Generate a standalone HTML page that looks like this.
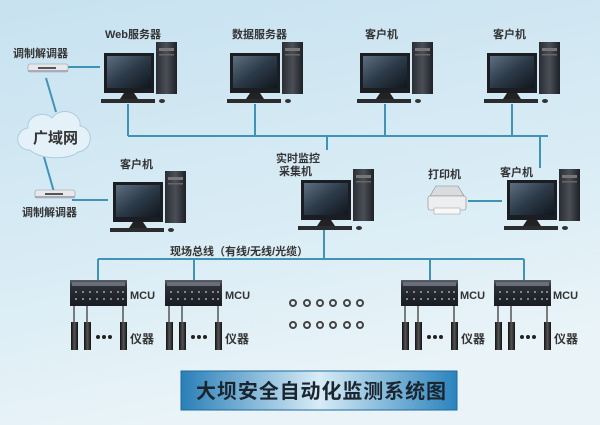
<!DOCTYPE html>
<html><head><meta charset="utf-8"><style>
html,body{margin:0;padding:0;width:600px;height:425px;overflow:hidden}
svg text{font-family:"Liberation Sans","Noto Sans CJK SC",sans-serif;font-weight:bold;fill:#333}
</style></head><body>
<svg width="600" height="425" viewBox="0 0 600 425" xmlns="http://www.w3.org/2000/svg">
<defs>
<linearGradient id="bg" x1="0" y1="0" x2="0.3" y2="1"><stop offset="0" stop-color="#c7e2f0"/><stop offset="0.6" stop-color="#d9ecf5"/><stop offset="1" stop-color="#eaf4f8"/></linearGradient>
<linearGradient id="scr" x1="0" y1="0" x2="1" y2="1"><stop offset="0" stop-color="#5d6f80"/><stop offset="0.5" stop-color="#2c3a48"/><stop offset="1" stop-color="#10161e"/></linearGradient>
<linearGradient id="tw" x1="0" y1="0" x2="1" y2="0"><stop offset="0" stop-color="#2a2d33"/><stop offset="0.5" stop-color="#4a4f57"/><stop offset="1" stop-color="#1e2126"/></linearGradient>
<linearGradient id="tb" x1="0" y1="0" x2="1" y2="0"><stop offset="0" stop-color="#2a7fb8"/><stop offset="0.5" stop-color="#d8ecf6"/><stop offset="1" stop-color="#2a83bd"/></linearGradient>
<linearGradient id="mcug" x1="0" y1="0" x2="0" y2="1"><stop offset="0" stop-color="#5a5e68"/><stop offset="0.25" stop-color="#2c2f38"/><stop offset="1" stop-color="#1a1c22"/></linearGradient>
<linearGradient id="bar" x1="0" y1="0" x2="1" y2="0"><stop offset="0" stop-color="#111"/><stop offset="0.5" stop-color="#555"/><stop offset="1" stop-color="#111"/></linearGradient>
<g id="pc">
 <rect x="52" y="-11" width="21" height="52" fill="url(#tw)"/>
 <rect x="55" y="-5" width="15" height="3" fill="#777"/>
 <rect x="55" y="1" width="15" height="1.5" fill="#666"/>
 <rect x="0" y="0" width="50" height="40" fill="#1a1d22"/>
 <rect x="3" y="3" width="44" height="32" fill="url(#scr)"/>
 <path d="M20 40 L30 40 L34 46 L16 46 Z" fill="#222"/>
 <rect x="-3" y="46" width="54" height="4" fill="#2a2c30"/>
 <ellipse cx="58" cy="48" rx="3" ry="2" fill="#333"/>
</g>
<g id="mcubox">
 <rect x="0" y="0" width="57" height="26" fill="url(#mcug)"/>
 <rect x="2" y="2" width="53" height="4" fill="#6a6e78"/>
 <g fill="#9aa">
  <circle cx="6" cy="12" r="1"/><circle cx="13" cy="12" r="1"/><circle cx="20" cy="12" r="1"/><circle cx="27" cy="12" r="1"/><circle cx="34" cy="12" r="1"/><circle cx="41" cy="12" r="1"/><circle cx="48" cy="12" r="1"/><circle cx="53" cy="12" r="1"/>
  <circle cx="6" cy="19" r="1"/><circle cx="13" cy="19" r="1"/><circle cx="20" cy="19" r="1"/><circle cx="27" cy="19" r="1"/><circle cx="34" cy="19" r="1"/><circle cx="41" cy="19" r="1"/><circle cx="48" cy="19" r="1"/><circle cx="53" cy="19" r="1"/>
 </g>
 <g stroke="#555" stroke-width="1.5"><line x1="4" y1="26" x2="4" y2="44"/><line x1="17" y1="26" x2="17" y2="44"/><line x1="53" y1="26" x2="53" y2="44"/></g>
 <rect x="1" y="42" width="7" height="28" fill="url(#bar)"/>
 <rect x="14" y="42" width="7" height="28" fill="url(#bar)"/>
 <rect x="50" y="42" width="7" height="28" fill="url(#bar)"/>
 <circle cx="28" cy="57" r="2" fill="#222"/><circle cx="34" cy="57" r="2" fill="#222"/><circle cx="40" cy="57" r="2" fill="#222"/>
</g>
<g id="modem">
 <rect x="0" y="0" width="40" height="8" rx="2" fill="#e6e8ec" stroke="#999" stroke-width="0.6"/>
 <rect x="10" y="3" width="18" height="2" fill="#555"/>
 <rect x="0" y="6" width="40" height="2" fill="#aab"/>
</g>
</defs>
<rect width="600" height="425" fill="url(#bg)"/>

<g stroke="#3f93b5" stroke-width="2" fill="none">
 <line x1="128" y1="104" x2="128" y2="136"/>
 <line x1="128" y1="136" x2="548" y2="136"/>
 <line x1="255" y1="104" x2="255" y2="136"/>
 <line x1="385" y1="104" x2="385" y2="136"/>
 <line x1="512" y1="104" x2="512" y2="136"/>
 <line x1="327" y1="136" x2="327" y2="150"/>
 <line x1="540" y1="136" x2="540" y2="168"/>
 <line x1="68" y1="67" x2="100" y2="67"/>
 <line x1="46" y1="78" x2="56" y2="112"/>
 <line x1="44" y1="157" x2="54" y2="192"/>
 <line x1="72" y1="200" x2="108" y2="200"/>
 <line x1="468" y1="201" x2="502" y2="201"/>
 <line x1="324" y1="226" x2="324" y2="259"/>
 <line x1="98" y1="259" x2="524" y2="259"/>
 <line x1="98" y1="259" x2="98" y2="280"/>
 <line x1="194" y1="259" x2="194" y2="280"/>
 <line x1="430" y1="259" x2="430" y2="280"/>
 <line x1="524" y1="259" x2="524" y2="280"/>
</g>

<g fill="#e4f1f8" stroke="#a9cde0" stroke-width="1">
 <path d="M30 150 C14 150 14 130 28 128 C26 116 44 110 52 118 C60 106 82 112 80 126 C94 128 94 150 78 152 C70 160 40 160 30 150 Z"/>
</g>
<text x="33" y="143" font-size="15">广域网</text>

<use href="#modem" x="28" y="64"/>
<text x="13" y="57" font-size="11">调制解调器</text>
<use href="#modem" x="35" y="190"/>
<text x="22" y="216" font-size="11">调制解调器</text>

<use href="#pc" x="104" y="53"/>
<text x="105" y="38" font-size="11">Web服务器</text>
<use href="#pc" x="230" y="53"/>
<text x="232" y="38" font-size="11">数据服务器</text>
<use href="#pc" x="360" y="53"/>
<text x="365" y="38" font-size="11">客户机</text>
<use href="#pc" x="487" y="53"/>
<text x="493" y="38" font-size="11">客户机</text>

<use href="#pc" x="113" y="182"/>
<text x="120" y="168" font-size="11">客户机</text>
<use href="#pc" x="301" y="180"/>
<text x="276" y="162" font-size="11">实时监控</text>
<text x="279" y="175" font-size="11">采集机</text>
<use href="#pc" x="507" y="180"/>
<text x="500" y="176" font-size="11">客户机</text>
<g>
 <path d="M430 196 L436 186 L458 186 L464 196 Z" fill="#d9dcdf" stroke="#888" stroke-width="0.6"/>
 <rect x="428" y="196" width="38" height="14" rx="2" fill="#eceef0" stroke="#888" stroke-width="0.6"/>
 <rect x="434" y="208" width="26" height="6" fill="#f8f8f8" stroke="#999" stroke-width="0.5"/>
</g>
<text x="428" y="178" font-size="11">打印机</text>

<text x="170" y="255" font-size="11">现场总线（有线/无线/光缆）</text>

<use href="#mcubox" x="70" y="280"/>
<text x="130" y="299" font-size="11">MCU</text>
<text x="130" y="343" font-size="12" font-weight="normal">仪器</text>
<use href="#mcubox" x="165" y="280"/>
<text x="225" y="299" font-size="11">MCU</text>
<text x="225" y="343" font-size="12" font-weight="normal">仪器</text>
<use href="#mcubox" x="401" y="280"/>
<text x="460" y="299" font-size="11">MCU</text>
<text x="461" y="343" font-size="12" font-weight="normal">仪器</text>
<use href="#mcubox" x="494" y="280"/>
<text x="553" y="299" font-size="11">MCU</text>
<text x="554" y="343" font-size="12" font-weight="normal">仪器</text>

<g fill="none" stroke="#444" stroke-width="2">
 <circle cx="293" cy="303" r="3"/><circle cx="307" cy="303" r="3"/><circle cx="320" cy="303" r="3"/><circle cx="333" cy="303" r="3"/><circle cx="347" cy="303" r="3"/><circle cx="360" cy="303" r="3"/>
 <circle cx="293" cy="325" r="3"/><circle cx="307" cy="325" r="3"/><circle cx="320" cy="325" r="3"/><circle cx="333" cy="325" r="3"/><circle cx="347" cy="325" r="3"/><circle cx="360" cy="325" r="3"/>
</g>

<rect x="181" y="371" width="276" height="39" fill="url(#tb)" stroke="#1d6a9e" stroke-width="1"/>
<text x="196" y="398" font-size="20" textLength="250" lengthAdjust="spacing" style="fill:#1b2530">大坝安全自动化监测系统图</text>
</svg>
</body></html>
